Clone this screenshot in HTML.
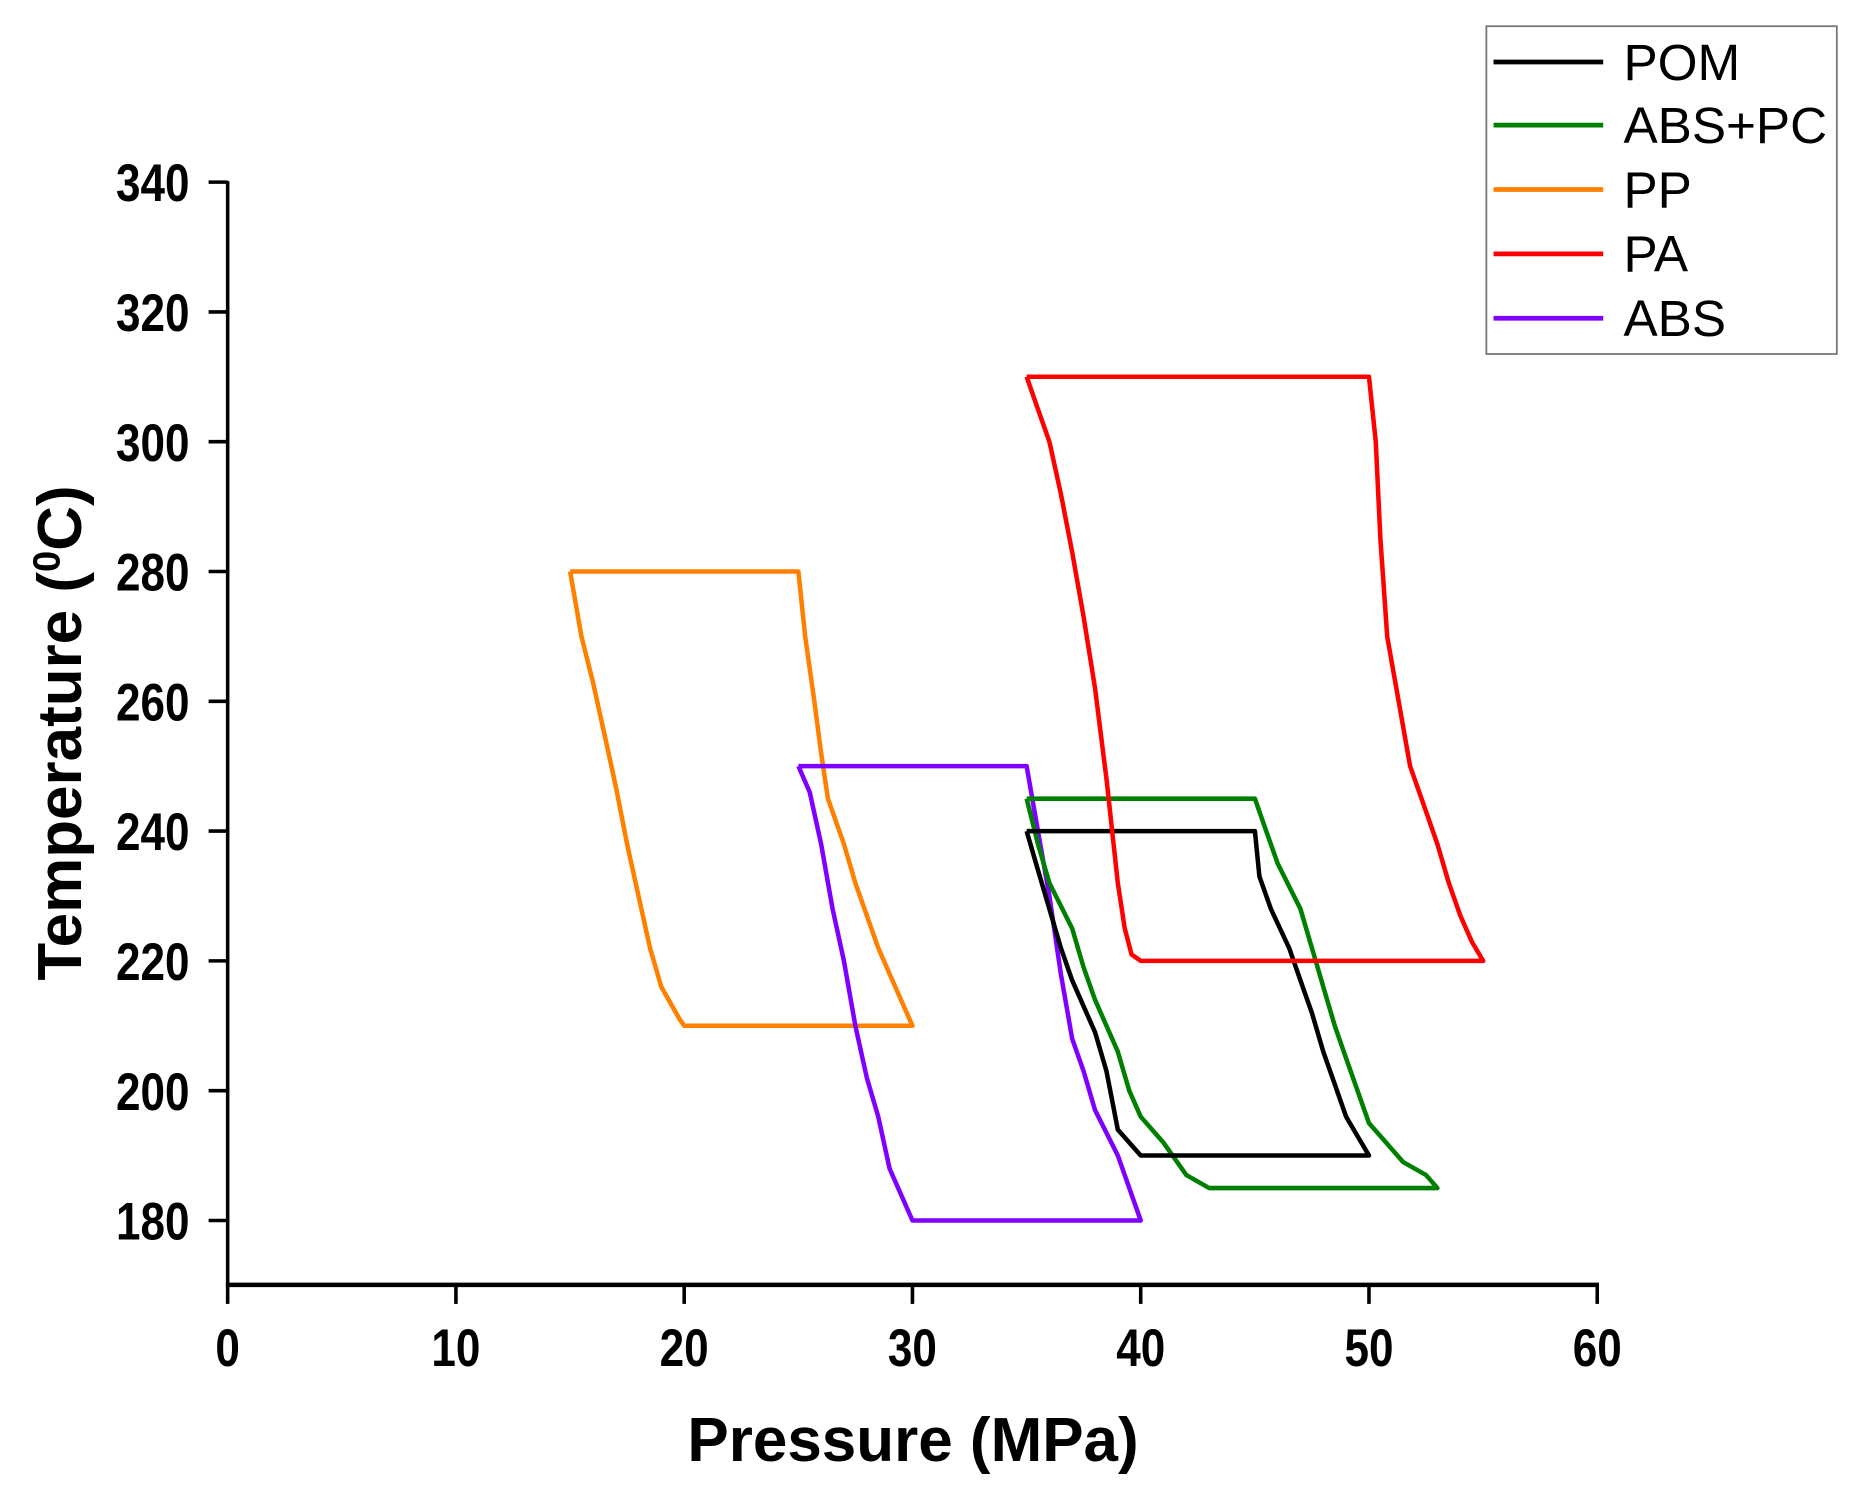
<!DOCTYPE html>
<html><head><meta charset="utf-8"><style>html,body{margin:0;padding:0;background:#fff}svg{display:block}</style></head>
<body>
<svg id="s" width="1869" height="1497" viewBox="0 0 1568 1256" preserveAspectRatio="none" xmlns="http://www.w3.org/2000/svg" font-family="Liberation Sans, Arial, sans-serif">
<rect width="1568" height="1256" fill="#fff"/>
<g id="data" fill="none" stroke-width="3.8" stroke-linejoin="round"></g>
<g stroke="#000" stroke-width="3">
<line x1="191" y1="152" x2="191" y2="1079"/>
<line x1="189.5" y1="1078" x2="1341.5" y2="1078" stroke-width="3.8"/>
</g>
<g id="ticks" stroke="#000" stroke-width="3"></g>
<g id="labels" font-weight="bold" font-size="44" fill="#000" transform="scale(0.84,1)"></g>
<text x="766" y="1226" text-anchor="middle" font-weight="bold" font-size="52">Pressure (MPa)</text>
<text transform="translate(68,615) rotate(-90)" text-anchor="middle" font-weight="bold" font-size="52">Temperature (<tspan dy="-18" font-size="32">0</tspan><tspan dy="18">C)</tspan></text>
<rect x="1247" y="22" width="294" height="275" fill="none" stroke="#777" stroke-width="1.5"/>
<g stroke-width="4">
<line x1="1253" y1="52" x2="1345" y2="52" stroke="#000"/>
<line x1="1253" y1="105" x2="1345" y2="105" stroke="#008000"/>
<line x1="1253" y1="159" x2="1345" y2="159" stroke="#ff8000"/>
<line x1="1253" y1="213" x2="1345" y2="213" stroke="#ff0000"/>
<line x1="1253" y1="267" x2="1345" y2="267" stroke="#8000ff"/>
</g>
<g font-size="43" fill="#000">
<text x="1362" y="67">POM</text>
<text x="1362" y="120">ABS+PC</text>
<text x="1362" y="174">PP</text>
<text x="1362" y="228">PA</text>
<text x="1362" y="282">ABS</text>
</g>
</svg>
<script>
var NS="http://www.w3.org/2000/svg";
function X(p){return 191+p*19.15}
function Y(t){return 1024-(t-180)*5.445}
var ticks=document.getElementById('ticks'),labels=document.getElementById('labels');
function el(tag,a,par,txt){var e=document.createElementNS(NS,tag);for(var k in a)e.setAttribute(k,a[k]);if(txt)e.textContent=txt;par.appendChild(e);return e}
var sx=0.84;
for(var p=0;p<=60;p+=10){el('line',{x1:X(p),y1:1078,x2:X(p),y2:1094},ticks);el('text',{x:X(p)/sx,y:1146,'text-anchor':'middle'},labels,String(p));}
for(var t=180;t<=340;t+=20){el('line',{x1:175,y1:Y(t),x2:191,y2:Y(t)},ticks);el('text',{x:159/sx,y:Y(t)+16,'text-anchor':'end'},labels,String(t));}
var series=[
['#ff8000',[[15,280],[25,280],[25.3,270],[25.7,260],[26,252],[26.3,245],[27,238],[27.5,232],[28,227],[28.5,222],[29,218],[29.5,214],[30,210],[20,210],[19.8,211],[19,216],[18.5,222],[18,230],[17.5,238],[17,247],[16.5,255],[16,263],[15.5,270],[15,280]]],
['#8000ff',[[25,250],[35,250],[35.5,240],[36,230],[36.5,218],[37,208],[37.5,203],[38,197],[39,190],[40,180],[30,180],[29.5,184],[29,188],[28.5,196],[28,202],[27.5,210],[27,220],[26.5,228],[26,238],[25.5,246],[25,250]]],
['#008000',[[35,245],[45,245],[45.5,240],[46,235],[47,228],[47.5,222],[48,216],[48.5,210],[49,205],[49.5,200],[50,195],[50.5,193],[51.5,189],[52.5,187],[53,185],[43,185],[42,187],[41,192],[40,196],[39.5,200],[39,206],[38,214],[37.5,219],[37,225],[36,232],[35.5,238],[35,245]]],
['#000000',[[35,240],[45,240],[45.2,233],[45.7,228],[46.5,222],[47,217],[47.5,212],[48,206],[48.5,201],[49,196],[49.5,193],[50,190],[40,190],[39,194],[38.5,203],[38,209],[37,217],[36.5,222],[36,228],[35.5,234],[35,240]]],
['#ff0000',[[35,310],[50,310],[50.3,300],[50.5,285],[50.8,270],[51.3,260],[51.8,250],[52.5,243],[53,238],[53.5,232],[54,227],[54.5,223],[55,220],[40,220],[39.6,221],[39.3,225],[39,232],[38.5,248],[38,262],[37.5,273],[37,283],[36.5,292],[36,300],[35.5,305],[35,310]]]
];
var g=document.getElementById('data');
series.forEach(function(s){el('polyline',{stroke:s[0],points:s[1].map(function(q){return X(q[0]).toFixed(1)+','+Y(q[1]).toFixed(1)}).join(' ')},g);});
</script>
</body></html>
